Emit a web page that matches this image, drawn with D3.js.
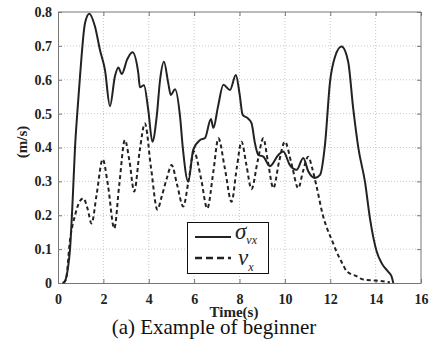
<!DOCTYPE html>
<html><head><meta charset="utf-8">
<script src="https://cdn.jsdelivr.net/npm/d3@7"></script>
<style>body{margin:0;background:#fff}svg{display:block}</style>
</head><body>
<script>
const xTicks = [0,2,4,6,8,10,12,14,16];
const yTicks = [0,0.1,0.2,0.3,0.4,0.5,0.6,0.7,0.8];
const yTickLabels = ["0","0.1","0.2","0.3","0.4","0.5","0.6","0.7","0.8"];
const sigmaT = [0.2,0.3,0.45,0.53,0.65,0.75,0.87,0.97,1.19,1.38,1.63,1.85,2.07,2.29,2.51,2.66,2.81,3.05,3.28,3.54,3.61,3.79,3.98,4.16,4.35,4.5,4.67,4.86,4.97,5.16,5.38,5.5,5.74,5.96,6.26,6.48,6.74,6.85,7.05,7.29,7.58,7.84,8.0,8.14,8.37,8.53,8.68,8.83,9.05,9.34,9.71,9.93,10.22,10.52,10.81,11.03,11.33,11.55,11.77,11.99,12.21,12.5,12.79,13.01,13.24,13.53,13.75,14.05,14.27,14.56,14.7,14.78];
const sigmaV = [0,0.005,0.05,0.1,0.25,0.40,0.52,0.61,0.767,0.795,0.757,0.688,0.629,0.522,0.61,0.636,0.617,0.66,0.681,0.619,0.578,0.584,0.51,0.417,0.491,0.6,0.653,0.59,0.555,0.572,0.491,0.40,0.299,0.393,0.422,0.428,0.484,0.458,0.52,0.585,0.57,0.614,0.56,0.496,0.486,0.472,0.413,0.378,0.373,0.345,0.378,0.388,0.348,0.334,0.369,0.33,0.31,0.319,0.41,0.594,0.668,0.698,0.653,0.516,0.398,0.299,0.191,0.092,0.058,0.033,0.02,0];
const vxT = [0.25,0.35,0.53,0.75,0.95,1.12,1.3,1.48,1.7,1.97,2.2,2.48,2.7,2.95,3.15,3.36,3.6,3.83,4.1,4.38,4.57,4.8,5.01,5.25,5.52,5.75,5.99,6.3,6.58,6.85,7.07,7.35,7.65,7.88,8.09,8.3,8.53,8.8,9.05,9.25,9.49,9.75,10.0,10.3,10.59,10.8,11.03,11.2,11.4,11.69,11.84,12.13,12.28,12.57,12.72,13.16,13.46,14.05,14.63];
const vxV = [0,0.01,0.127,0.2,0.24,0.25,0.22,0.176,0.26,0.365,0.29,0.161,0.29,0.422,0.36,0.27,0.39,0.471,0.34,0.217,0.255,0.31,0.348,0.29,0.226,0.3,0.388,0.31,0.22,0.33,0.427,0.34,0.24,0.34,0.417,0.35,0.277,0.36,0.427,0.36,0.28,0.36,0.417,0.35,0.28,0.33,0.373,0.34,0.284,0.196,0.165,0.117,0.092,0.053,0.035,0.02,0.01,0.007,0.002];

const W=429,H=344, L=58, T=12, R=421, B=283;
const svg=d3.select("body").append("svg").attr("width",W).attr("height",H);
const x=d3.scaleLinear().domain([0,16]).range([L,R]);
const y=d3.scaleLinear().domain([0,0.8]).range([B,T]);
const serif='"Liberation Serif","Times New Roman",serif';

// grid
const g=svg.append("g");
g.selectAll(".gx").data(xTicks.slice(1,-1)).enter().append("line")
 .attr("x1",d=>x(d)).attr("x2",d=>x(d)).attr("y1",T).attr("y2",B)
 .attr("stroke","#c8c8c8").attr("stroke-width",1).attr("stroke-dasharray","1,2");
g.selectAll(".gy").data(yTicks.slice(1,-1)).enter().append("line")
 .attr("y1",d=>y(d)).attr("y2",d=>y(d)).attr("x1",L).attr("x2",R)
 .attr("stroke","#c8c8c8").attr("stroke-width",1).attr("stroke-dasharray","1,2");

// axes via d3
const xAxis=d3.axisBottom(x).tickValues(xTicks).tickSizeInner(-4).tickSizeOuter(0).tickPadding(8);
const yAxis=d3.axisLeft(y).tickValues(yTicks).tickFormat((d,i)=>yTickLabels[i]).tickSizeInner(-4).tickSizeOuter(0).tickPadding(6);
const gx=svg.append("g").attr("transform",`translate(0,${B})`).call(xAxis);
const gy=svg.append("g").attr("transform",`translate(${L},0)`).call(yAxis);
[gx,gy].forEach(a=>{
  a.select(".domain").attr("stroke","#777");
  a.selectAll(".tick line").attr("stroke","#777");
  a.selectAll("text").attr("font-family",serif).attr("font-weight","bold").attr("font-size",14).attr("fill","#222");
});
gx.selectAll("text").attr("dy","0.9em");
// top/right box
svg.append("line").attr("x1",L).attr("x2",R).attr("y1",T).attr("y2",T).attr("stroke","#777");
svg.append("line").attr("x1",R).attr("x2",R).attr("y1",T).attr("y2",B).attr("stroke","#777");
svg.append("g").attr("transform",`translate(0,${T})`).call(d3.axisTop(x).tickValues(xTicks).tickSizeInner(-4).tickSizeOuter(0).tickFormat(""))
 .call(a=>{a.select(".domain").remove();a.selectAll("line").attr("stroke","#777");});
svg.append("g").attr("transform",`translate(${R},0)`).call(d3.axisRight(y).tickValues(yTicks).tickSizeInner(-4).tickSizeOuter(0).tickFormat(""))
 .call(a=>{a.select(".domain").remove();a.selectAll("line").attr("stroke","#777");});

// lines
const line=d3.line().x(d=>x(d[0])).y(d=>y(d[1])).curve(d3.curveMonotoneX);
svg.append("path").datum(vxT.map((t,i)=>[t,vxV[i]])).attr("d",line)
 .attr("fill","none").attr("stroke","#222").attr("stroke-width",2).attr("stroke-dasharray","4,3");
svg.append("path").datum(sigmaT.map((t,i)=>[t,sigmaV[i]])).attr("d",line)
 .attr("fill","none").attr("stroke","#222").attr("stroke-width",2);

// legend
const lg=svg.append("g");
lg.append("rect").attr("x",187.5).attr("y",222.5).attr("width",81).attr("height",51).attr("fill","#fff").attr("stroke","#111").attr("stroke-width",1);
lg.append("line").attr("x1",195).attr("x2",231).attr("y1",237).attr("y2",237).attr("stroke","#222").attr("stroke-width",2);
lg.append("line").attr("x1",195).attr("x2",231).attr("y1",258).attr("y2",258).attr("stroke","#222").attr("stroke-width",2.5).attr("stroke-dasharray","7,4");
const t1=lg.append("text").attr("x",235).attr("y",239).attr("font-family",serif).attr("font-style","italic").attr("font-size",23).attr("fill","#222");
t1.append("tspan").text("σ");
t1.append("tspan").attr("font-size",12).attr("dy",5).text("vx");
const t2=lg.append("text").attr("x",238).attr("y",265).attr("font-family",serif).attr("font-style","italic").attr("font-size",23).attr("fill","#222");
t2.append("tspan").text("v");
t2.append("tspan").attr("font-size",12).attr("dy",6).text("x");

// labels
svg.append("text").attr("transform","translate(27,142) rotate(-90)").attr("text-anchor","middle")
 .attr("font-family",serif).attr("font-weight","bold").attr("font-size",15).attr("fill","#222").text("(m/s)");
svg.append("text").attr("x",234).attr("y",317).attr("text-anchor","middle")
 .attr("font-family",serif).attr("font-weight","bold").attr("font-size",15).attr("fill","#222").text("Time(s)");
svg.append("text").attr("x",214).attr("y",334).attr("text-anchor","middle")
 .attr("font-family",serif).attr("font-size",21).attr("fill","#111").text("(a) Example of beginner");
</script>
</body></html>
